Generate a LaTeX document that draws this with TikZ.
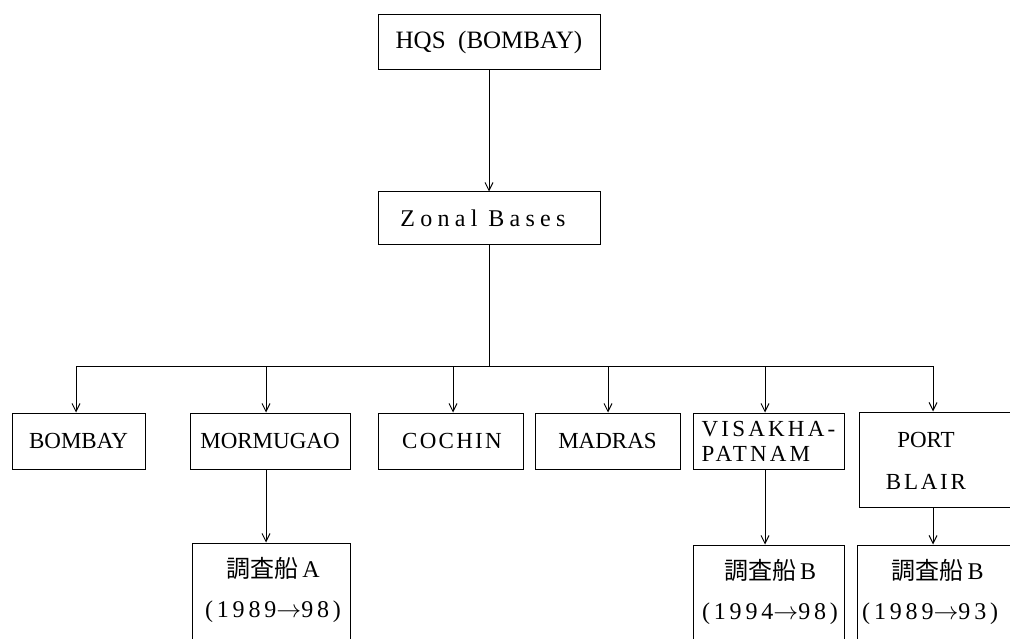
\documentclass[tikz,border=0pt]{standalone}
\usepackage{fontspec}
\setmainfont{Liberation Serif}
\newfontfamily\cjk{Noto Sans CJK JP}
\usetikzlibrary{arrows.meta}
\begin{document}
\begin{tikzpicture}[x=1pt,y=-1pt,
  box/.style={draw,line width=1pt,rectangle,inner sep=0pt,font=\fontsize{23}{25}\selectfont},
  txt/.style={inner sep=0pt,align=center},
  arr/.style={line width=1pt,-{Straight Barb[length=8pt,width=8pt]}},
  ln/.style={line width=1pt}]
\useasboundingbox (0,0) rectangle (1010,639);
\clip (0,0) rectangle (1010,639);
% top
\node[box,minimum width=222pt,minimum height=55pt,font=\fontsize{25}{27}\selectfont] (hqs) at (489,42) {HQS\hspace{0.5em}(BOMBAY)};
\node[box,minimum width=222pt,minimum height=53pt,font=\fontsize{24}{26}\selectfont] (zonal) at (489,218.5) {\hspace{-12pt}\addfontfeature{LetterSpace=22}Zonal\hspace{0.45em}Bases};
% row
\node[box,minimum width=133pt,minimum height=56pt] (bombay) at (78.5,441) {BOMBAY};
\node[box,minimum width=160pt,minimum height=56pt] (mormugao) at (270,441) {MORMUGAO};
\node[box,minimum width=145pt,minimum height=56pt] (cochin) at (450.5,441) {\hspace{3pt}\addfontfeature{LetterSpace=10}COCHIN};
\node[box,minimum width=145pt,minimum height=56pt] (madras) at (607.5,441) {MADRAS};
\node[box,minimum width=151pt,minimum height=56pt,align=left] (visakha) at (768.5,441) {\addfontfeature{LetterSpace=14}VISAKHA-\\\addfontfeature{LetterSpace=14}PATNAM};
\node[box,minimum width=161pt,minimum height=95pt] (pb) at (939.5,459.5) {};
\node[txt,font=\fontsize{23}{42}\selectfont] (pbt) at (926,461) {PORT\\\addfontfeature{LetterSpace=12}BLAIR};
% bottom
\node[box,minimum width=158pt,minimum height=120pt] (sa) at (271,603) {};
\node[txt,font=\fontsize{24}{40}\selectfont] (sat) at (273,590) {{\cjk 調査船}\,A\\\addfontfeature{LetterSpace=16}(1989$\rightarrow$98)};
\node[box,minimum width=151pt,minimum height=120pt] (vb) at (768.5,605) {};
\node[txt,font=\fontsize{24}{40}\selectfont] (vbt) at (770,592) {{\cjk 調査船}\,B\\\addfontfeature{LetterSpace=16}(1994$\rightarrow$98)};
\node[box,minimum width=163pt,minimum height=120pt] (pbb) at (938.5,605) {};
\node[txt,font=\fontsize{24}{40}\selectfont,anchor=west] (pbbt) at (862,592) {\hspace{15pt}{\cjk 調査船}\,B\\\addfontfeature{LetterSpace=16}(1989$\rightarrow$93)};
% connectors
\draw[arr] (hqs.south) -- (zonal.north);
\coordinate (bus) at (489,366);
\coordinate (j1) at (76,366);
\coordinate (j2) at (266,366);
\coordinate (j3) at (453,366);
\coordinate (j4) at (608,366);
\coordinate (j5) at (765,366);
\coordinate (j6) at (933,366);
\draw[ln] (zonal.south) -- (bus);
\draw[ln] (j1) -- (j6);
\draw[arr] (j1) -- (j1 |- bombay.north);
\draw[arr] (j2) -- (j2 |- mormugao.north);
\draw[arr] (j3) -- (j3 |- cochin.north);
\draw[arr] (j4) -- (j4 |- madras.north);
\draw[arr] (j5) -- (j5 |- visakha.north);
\draw[arr] (j6) -- (j6 |- pb.north);
\draw[arr] (j2 |- mormugao.south) -- (j2 |- sa.north);
\draw[arr] (j5 |- visakha.south) -- (j5 |- vb.north);
\draw[arr] (j6 |- pb.south) -- (j6 |- pbb.north);
\end{tikzpicture}
\end{document}
